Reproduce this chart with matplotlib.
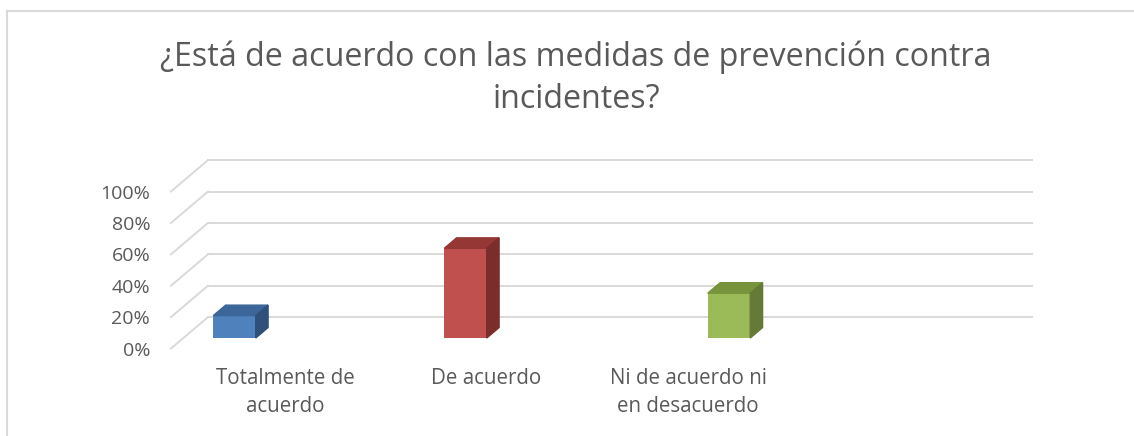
import numpy as np
import matplotlib
matplotlib.use("Agg")
import matplotlib.pyplot as plt
from matplotlib.patches import Polygon
from matplotlib.lines import Line2D

plt.rcParams['font.family'] = ['Open Sans', 'DejaVu Sans']

# data
categories = ['Totalmente de\nacuerdo', 'De acuerdo', 'Ni de acuerdo ni\nen desacuerdo']
values = [1/7, 4/7, 2/7]
y_ticks = [0, 0.2, 0.4, 0.6, 0.8, 1.0]
y_labels = ['0%', '20%', '40%', '60%', '80%', '100%']
title = '¿Está de acuerdo con las medidas de prevención contra\nincidentes?'

# layout (x in pixels, y in data units)
bar_x = [234.5, 465.5, 729.0]
label_x = [285, 486, 688]
bar_w = 42.5
DX, DY = 37.0, 0.2          # full depth of the 3d box
d0, d1 = 1/3, 2/3           # bar depth range
x_front0, x_back1 = 171, 1032

face = ['#4F81BD', '#C0504D', '#9BBB59']
side = ['#2F5079', '#7A2D2B', '#667A38']
top = ['#3C6599', '#953735', '#77933C']
grid_c = '#D9D9D9'
text_c = '#595959'

W, H = 1134, 436
fig = plt.figure(figsize=(W/100, H/100), dpi=100)
y0_px = 348.5
unit_px = 157.0
ax = fig.add_axes([x_front0/W, (H - y0_px)/H, (W - x_front0)/W, unit_px/H])
ax.set_xlim(x_front0, W)
ax.set_ylim(0, 1)
ax.patch.set_visible(False)
for s in ax.spines.values():
    s.set_visible(False)

# walls: back gridlines and diagonal lines on the side wall
for v in y_ticks:
    ax.plot([x_front0 + DX, x_back1], [v + DY, v + DY], color=grid_c, lw=1.4, clip_on=False, zorder=1)
    ax.plot([x_front0, x_front0 + DX], [v, v + DY], color=grid_c, lw=1.4, clip_on=False, zorder=1)

# 3d bars
ax.bar(bar_x, values, width=bar_w, bottom=DY*d0, color=face, clip_on=False, zorder=3)
dd = d1 - d0
for i, v in enumerate(values):
    xl = bar_x[i] - bar_w/2
    xr = bar_x[i] + bar_w/2
    yb = DY*d0
    yt = yb + v
    ax.add_patch(Polygon([(xl, yt), (xr, yt), (xr + DX*dd, yt + DY*dd), (xl + DX*dd, yt + DY*dd)],
                         closed=True, color=top[i], clip_on=False, zorder=3))
    ax.add_patch(Polygon([(xr, yb), (xr + DX*dd, yb + DY*dd), (xr + DX*dd, yt + DY*dd), (xr, yt)],
                         closed=True, color=side[i], clip_on=False, zorder=3))

ax.set_yticks(y_ticks)
ax.set_yticklabels(y_labels, fontsize=14, color=text_c)
ax.set_xticks(label_x)
ax.set_xticklabels(categories, fontsize=14.8, color=text_c, linespacing=1.45)
ax.tick_params(axis='y', length=0, pad=15)
ax.tick_params(axis='x', length=0, pad=14)

fig.text(576/W, 1 - 40/H, title, ha='center', va='top', fontsize=23.2, color=text_c, linespacing=1.4)

# chart border
fig.add_artist(Line2D([7/W, 1], [1 - 11/H, 1 - 11/H], color=grid_c, lw=1.5))
fig.add_artist(Line2D([7/W, 7/W], [0, 1 - 11/H], color=grid_c, lw=1.5))

fig.savefig('out.png', dpi=100)
